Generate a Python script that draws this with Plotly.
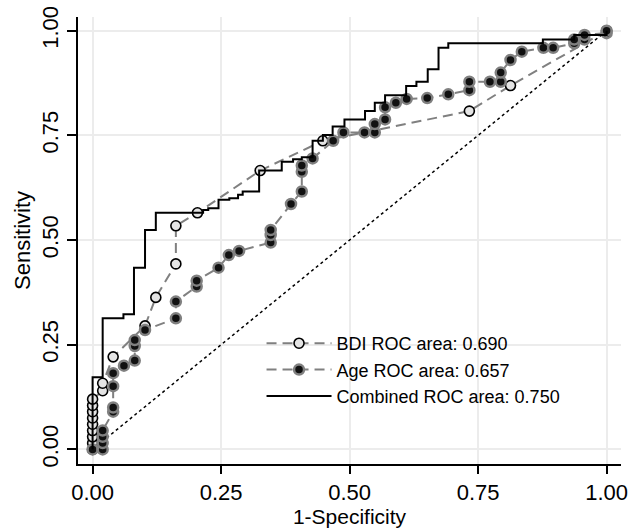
import plotly.graph_objects as go

# BDI ROC points (1-specificity, sensitivity)
bdi_fpr = [0, 0, 0, 0, 0, 0, 0, 0, 0, 0.0196, 0.0196, 0.04, 0.102, 0.123, 0.162, 0.162,
           0.204, 0.326, 0.448, 0.733, 0.813, 1.0]
bdi_tpr = [0, 0.015, 0.03, 0.045, 0.06, 0.075, 0.09, 0.105, 0.12, 0.14, 0.158, 0.221, 0.295,
           0.363, 0.443, 0.534, 0.565, 0.666, 0.737, 0.808, 0.869, 1.0]

# Age ROC points
age_fpr = [0, 0.0196, 0.0196, 0.0196, 0.0196, 0.04, 0.04, 0.04, 0.04, 0.061, 0.082, 0.082,
           0.082, 0.102, 0.162, 0.162, 0.2025, 0.2025, 0.245, 0.265, 0.285, 0.3465, 0.3465,
           0.3465, 0.386, 0.407, 0.407, 0.407, 0.428, 0.468, 0.488, 0.529, 0.549, 0.549,
           0.569, 0.569, 0.590, 0.611, 0.651, 0.692, 0.733, 0.733, 0.773, 0.794, 0.794,
           0.813, 0.835, 0.877, 0.896, 0.937, 0.937, 0.957, 0.957, 1.0, 1.0]
age_tpr = [0, 0, 0.015, 0.03, 0.045, 0.09, 0.10, 0.151, 0.182, 0.20, 0.212, 0.247,
           0.261, 0.285, 0.313, 0.353, 0.389, 0.403, 0.434, 0.464, 0.474, 0.494, 0.512,
           0.524, 0.586, 0.616, 0.663, 0.678, 0.695, 0.737, 0.757, 0.757, 0.757, 0.777,
           0.788, 0.817, 0.828, 0.837, 0.839, 0.848, 0.858, 0.878, 0.878, 0.878, 0.90,
           0.93, 0.95, 0.959, 0.959, 0.970, 0.979, 0.979, 0.99, 0.994, 1.0]

# Combined ROC step corners
comb_fpr = [0, 0, 0.0196, 0.06, 0.0805, 0.102, 0.123, 0.215, 0.225, 0.245, 0.266, 0.283,
            0.292, 0.324, 0.368, 0.39, 0.407, 0.428, 0.448, 0.467, 0.49, 0.53, 0.549, 0.569,
            0.61, 0.63, 0.652, 0.673, 0.692, 0.876, 0.937, 1.0, 1.0]
comb_tpr = [0, 0.172, 0.313, 0.323, 0.434, 0.524, 0.565, 0.572, 0.576, 0.596, 0.600, 0.608,
            0.616, 0.666, 0.687, 0.693, 0.698, 0.737, 0.751, 0.771, 0.788, 0.808, 0.828,
            0.846, 0.868, 0.878, 0.908, 0.959, 0.970, 0.979, 0.99, 0.99, 1.0]

ref_x = [0, 1]
ref_y = [0, 1]

labels = ["BDI ROC area: 0.690", "Age ROC area: 0.657", "Combined ROC area: 0.750"]
tick_vals = [0, 0.25, 0.5, 0.75, 1.0]
tick_text = ["0.00", "0.25", "0.50", "0.75", "1.00"]

FONT = "Liberation Sans, Arial, sans-serif"
GRAY = "#808080"

fig = go.Figure()
fig.add_trace(go.Scatter(x=ref_x, y=ref_y, mode="lines", showlegend=False,
                         line=dict(color="black", width=1.5, dash="dot"),
                         hoverinfo="skip"))
fig.add_trace(go.Scatter(x=bdi_fpr, y=bdi_tpr, mode="lines+markers", name=labels[0],
                         line=dict(color=GRAY, width=2, dash="10px,6px"),
                         marker=dict(symbol="circle", size=10, color="#e4e4e4",
                                     line=dict(color="black", width=1.6))))
fig.add_trace(go.Scatter(x=age_fpr, y=age_tpr, mode="lines+markers", name=labels[1],
                         line=dict(color=GRAY, width=2, dash="10px,6px"),
                         marker=dict(symbol="circle", size=10, color="#111111",
                                     line=dict(color=GRAY, width=2.5))))
fig.add_trace(go.Scatter(x=comb_fpr, y=comb_tpr, mode="lines", name=labels[2],
                         line=dict(color="black", width=2, shape="hv")))

axis_common = dict(
    tickmode="array", tickvals=tick_vals, ticktext=tick_text,
    showgrid=True, gridcolor="#ececec", gridwidth=1.5,
    zeroline=False, showline=True, linecolor="black", linewidth=1.5,
    ticks="outside", tickwidth=1.5, tickcolor="black",
    tickfont=dict(family=FONT, size=22, color="black"),
    mirror=False, automargin=False,
)

fig.update_layout(
    width=630, height=528,
    margin=dict(l=78, r=9, t=17, b=64),
    paper_bgcolor="white", plot_bgcolor="white",
    font=dict(family=FONT, color="black"),
    xaxis=dict(range=[-0.0284, 1.028], ticklen=8,
               title=dict(text="1-Specificity", font=dict(family=FONT, size=21), standoff=4),
               **axis_common),
    yaxis=dict(range=[-0.0349, 1.0327], tickangle=-90, ticklen=9,
               title=dict(text="Sensitivity", font=dict(family=FONT, size=22), standoff=2),
               **axis_common),
    legend=dict(x=0.338, y=0.311, xanchor="left", yanchor="top",
                bgcolor="rgba(0,0,0,0)", font=dict(family=FONT, size=18, color="black"),
                itemwidth=65, tracegroupgap=0),
    showlegend=True,
)

fig.write_html("out.html",
               config={"displayModeBar": False},
               post_script="document.body.style.margin='0';document.body.style.padding='0';")
